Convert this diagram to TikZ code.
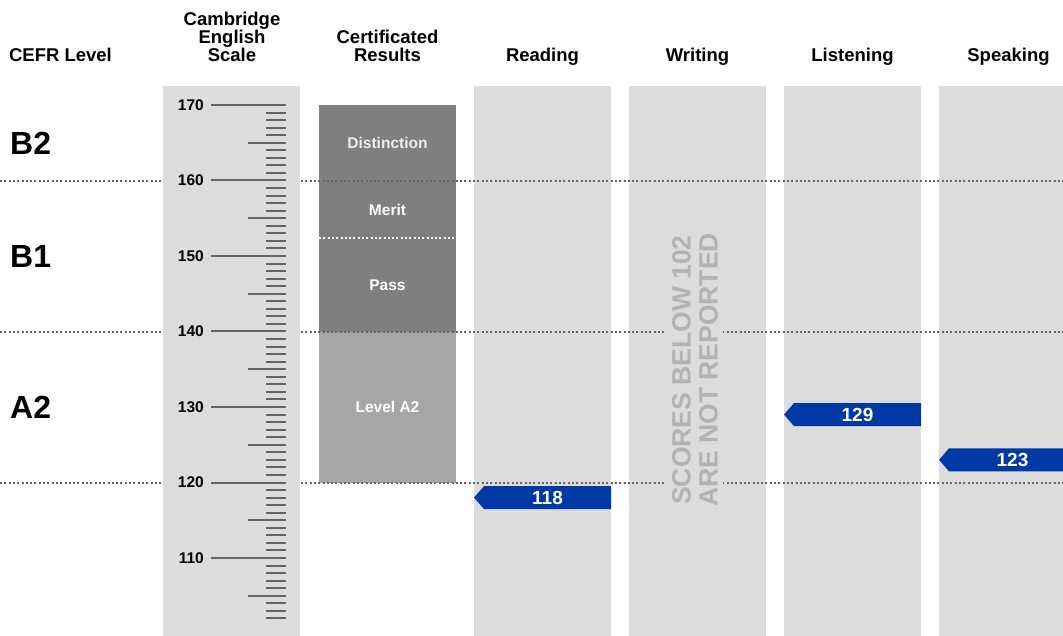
\documentclass[tikz,border=0pt]{standalone}
\usepackage{fontspec}
\setmainfont{Liberation Sans}
\usepackage{tikz}
\usetikzlibrary{positioning,calc}
\definecolor{colgray}{RGB}{220,220,220}
\definecolor{bardark}{RGB}{127,127,127}
\definecolor{barlight}{RGB}{166,166,166}
\definecolor{linegray}{RGB}{100,100,100}
\definecolor{scoreblue}{RGB}{0,56,165}
\definecolor{notegray}{RGB}{178,178,178}

\begin{document}
\begin{tikzpicture}[x=1pt,y=-1pt,
    head/.style={font=\fontsize{18.5}{17.8}\selectfont\bfseries, align=center, anchor=south, inner sep=0pt, text depth=0pt},
    cefr/.style={font=\fontsize{32}{32}\selectfont\bfseries, anchor=west, inner sep=0pt},
    scalenum/.style={font=\fontsize{15.5}{15.5}\selectfont\bfseries, anchor=east, inner sep=0pt},
    grade/.style={font=\fontsize{15.5}{15.5}\selectfont\bfseries, text=white, inner sep=0pt},
    score/.style={font=\fontsize{19}{19}\selectfont\bfseries, text=white, inner sep=0pt},
    note/.style={font=\fontsize{26.5}{27}\selectfont\bfseries, text=notegray, fill=colgray, align=center, rotate=90, inner sep=5.5pt},
    levelline/.style={line width=2pt, dash pattern=on 2pt off 2.3pt},
    tick/.style={linegray, line width=2pt}]
    \useasboundingbox (0,0) rectangle (1063,636);
    \clip (0,0) rectangle (1063,636);

    % column backgrounds
    \foreach \x in {474,629,784,939}
        \fill[colgray] (\x,86) rectangle ++(137,550);

    % headings
    \node[head] (cefr) at (60.5,61.7) {CEFR Level};
    \node[head] (ces) at (232,61.7) {Cambridge\\English\\Scale};
    \node[head] (cert) at (387.5,61.7) {Certificated\\Results};
    \node[head] (read) at (542.5,61.7) {Reading};
    \node[head] (write) at (697.5,61.7) {Writing};
    \node[head] (listen) at (852.5,61.7) {Listening};
    \node[head] (speak) at (1008.5,61.7) {Speaking};

    % certificated results bar
    \fill[bardark] (319,105) rectangle (456,332);
    \fill[barlight] (319,332) rectangle (456,483);
    \draw[levelline, white] (319,238) -- (456,238);
    \node[grade, text=white!93!black] (dist) at (387.5,143) {Distinction};
    \node[grade] (merit) at (387.5,210) {Merit};
    \node[grade] (pass) at (387.5,285) {Pass};
    \node[grade] (lvla2) at (387.5,407) {Level A2};

    % CEFR boundaries
    \foreach \y in {181,332,483}
        \draw[levelline, linegray] (0,\y) -- (1063,\y);
    \node[cefr] (b2) at (10,143) {B2};
    \node[cefr] (b1) at (10,256) {B1};
    \node[cefr] (a2) at (10,407) {A2};

    % Cambridge English Scale ruler
    \fill[colgray] (163,86) rectangle (300,636);
    \foreach \v in {102,...,170}
        \draw[tick] (266,{105+(170-\v)*7.55}) -- (286,{105+(170-\v)*7.55});
    \foreach \v in {105,115,...,165}
        \draw[tick] (248,{105+(170-\v)*7.55}) -- (286,{105+(170-\v)*7.55});
    \foreach \v in {110,120,...,170} {
        \draw[tick] (211,{105+(170-\v)*7.55}) -- (286,{105+(170-\v)*7.55});
        \node[scalenum] (s\v) at (204,{105+(170-\v)*7.55}) {\v};
    }

    % writing note
    \node[note] (nowrite) at (695,370) {SCORES BELOW 102\\ARE NOT REPORTED};

    % candidate scores
    \foreach \x/\v/\n in {474/118/read, 784/129/listen, 939/123/speak} {
        \pgfmathsetmacro\yc{105+(170-\v)*7.55}
        \fill[scoreblue] (\x,\yc) -- ++(10,-11.5) -- ++(127,0) -- ++(0,23) -- ++(-127,0) -- cycle;
        \node[score] (\n score) at (\x+73.5,\yc) {\v};
    }
\end{tikzpicture}
\end{document}
